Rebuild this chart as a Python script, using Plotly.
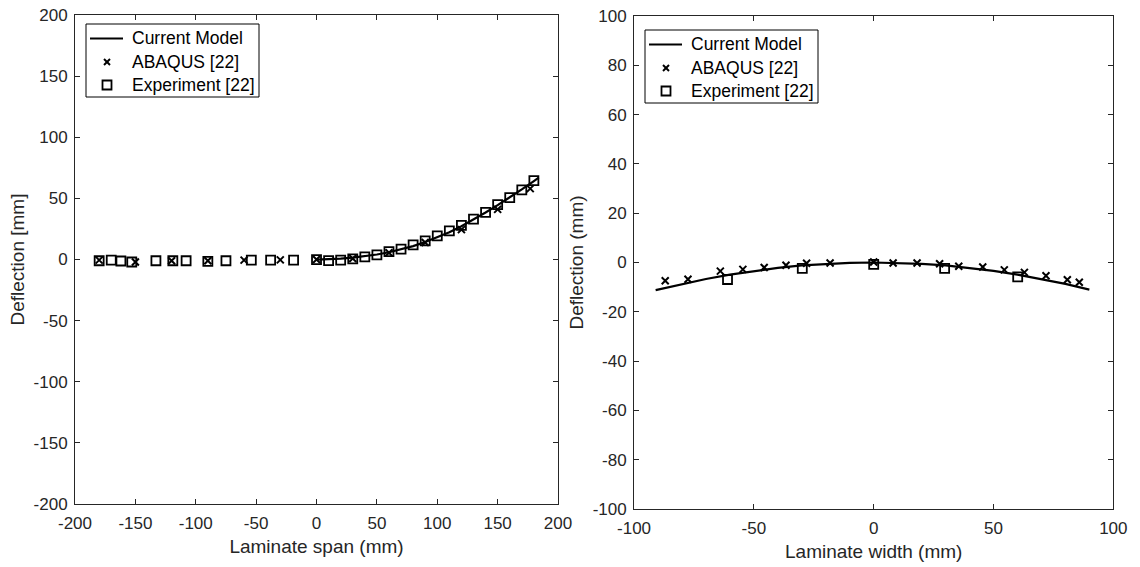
import plotly.graph_objects as go

# ---- Laminate span (left panel) ----
span_model_x = [0, 10, 20, 30, 40, 50, 60, 70, 80, 90, 100, 110, 120, 130, 140, 150, 160, 170, 180, 184]
span_model_y = [0, 0.2, 0.7, 1.5, 2.6, 4.1, 6.0, 8.3, 11.0, 14.3, 18.0, 22.3, 27.2, 32.6, 38.5, 44.5, 50.8, 57.4, 64.2, 67.0]

span_abaqus_x = [-180, -150, -120, -90, -60, -30, 0, 30, 60, 90, 120, 150, 177]
span_abaqus_y = [-0.5, -2.0, -1.0, -1.0, -0.5, -0.3, 0, 0.8, 5.5, 14.0, 24.5, 41.0, 58.0]

span_exp_x = [-180, -170, -162, -153, -133, -119, -108, -90, -75, -54, -38, -19, 0,
              10, 20, 30, 40, 50, 60, 70, 80, 90, 100, 110, 120, 130, 140, 150, 160, 170, 180]
span_exp_y = [-1.0, -0.5, -1.2, -2.0, -1.0, -1.0, -1.0, -1.5, -1.0, -0.5, -0.5, -0.5, 0,
              -0.8, -0.5, 0.5, 2.2, 3.8, 6.5, 8.6, 12.0, 15.3, 19.3, 23.5, 28.0, 33.0, 38.6, 45.0, 50.6, 57.0, 64.5]

span_xticks = [-200, -150, -100, -50, 0, 50, 100, 150, 200]
span_yticks = [-200, -150, -100, -50, 0, 50, 100, 150, 200]

# ---- Laminate width (right panel) ----
width_model_x = [-91, -80, -70, -60, -50, -40, -30, -20, -10, 0, 10, 20, 30, 40, 50, 60, 70, 80, 90]
width_model_y = [-11.2, -8.7, -6.7, -4.9, -3.4, -2.2, -1.2, -0.55, -0.14, 0, -0.14, -0.55, -1.2, -2.2, -3.4, -4.9, -6.7, -8.7, -11.0]

width_abaqus_x = [-87, -77.5, -64, -54.6, -45.7, -36.6, -28, -18.2, 0, 8.1, 18.1, 27.5, 35.5, 45.5, 54.5, 62.9, 71.9, 80.8, 85.8]
width_abaqus_y = [-7.4, -6.8, -3.5, -2.8, -2.0, -1.1, -0.3, -0.2, 0.2, -0.2, -0.2, -0.5, -1.5, -1.8, -3.0, -4.0, -5.4, -7.0, -8.0]

width_exp_x = [-61, -29.8, 0, 29.6, 60.1]
width_exp_y = [-6.9, -2.4, -0.8, -2.4, -5.8]

width_xticks = [-100, -50, 0, 50, 100]
width_yticks = [-100, -80, -60, -40, -20, 0, 20, 40, 60, 80, 100]

legend_names = ["Current Model", "ABAQUS [22]", "Experiment [22]"]

FONT = "Liberation Sans, Arial, sans-serif"
INK = "#262626"
W, H = 1140, 567

fig = go.Figure()

def add_panel(mx, my, ax, ay, ex, ey, xa, ya):
    fig.add_trace(go.Scatter(x=mx, y=my, mode="lines", name=legend_names[0],
                             line=dict(color="black", width=2.2),
                             xaxis=xa, yaxis=ya, showlegend=False))
    fig.add_trace(go.Scatter(x=ax, y=ay, mode="markers", name=legend_names[1],
                             marker=dict(symbol="x-thin", size=7, color="black",
                                         line=dict(color="black", width=2)),
                             xaxis=xa, yaxis=ya, showlegend=False))
    fig.add_trace(go.Scatter(x=ex, y=ey, mode="markers", name=legend_names[2],
                             marker=dict(symbol="square-open", size=9, color="black",
                                         line=dict(color="black", width=1.8)),
                             xaxis=xa, yaxis=ya, showlegend=False))

add_panel(span_model_x, span_model_y, span_abaqus_x, span_abaqus_y,
          span_exp_x, span_exp_y, "x", "y")
add_panel(width_model_x, width_model_y, width_abaqus_x, width_abaqus_y,
          width_exp_x, width_exp_y, "x2", "y2")

# Compact MATLAB-style legend box, placed in pixel units
def px(x):
    return x / W

def py(y):
    return 1 - y / H

def draw_legend(x0, y0, w=173, h=73):
    fig.add_shape(type="rect", xref="paper", yref="paper",
                  x0=px(x0), x1=px(x0 + w), y0=py(y0), y1=py(y0 + h),
                  line=dict(color="black", width=1), fillcolor="white", layer="above")
    rows = [y0 + 14.5, y0 + 38, y0 + 61]
    sx = x0 + 21
    # solid line sample
    fig.add_shape(type="line", xref="paper", yref="paper",
                  x0=px(x0 + 4), x1=px(x0 + 37), y0=py(rows[0]), y1=py(rows[0]),
                  line=dict(color="black", width=2.2), layer="above")
    # cross sample
    d = 3
    for a, b in ((-d, d), (d, -d)):
        fig.add_shape(type="line", xref="paper", yref="paper",
                      x0=px(sx - d), x1=px(sx + d), y0=py(rows[1] + a), y1=py(rows[1] + b),
                      line=dict(color="black", width=2), layer="above")
    # open square sample
    s = 4.5
    fig.add_shape(type="rect", xref="paper", yref="paper",
                  x0=px(sx - s), x1=px(sx + s), y0=py(rows[2] - s), y1=py(rows[2] + s),
                  line=dict(color="black", width=1.8), layer="above")
    for name, ry in zip(legend_names, rows):
        fig.add_annotation(x=px(x0 + 44), y=py(ry), xref="paper", yref="paper",
                           text=name, showarrow=False, xanchor="left", yanchor="middle",
                           font=dict(family=FONT, size=17.5, color="black"))

draw_legend(86, 24)
draw_legend(645, 30)

def labels(vals):
    # plain hyphen-minus for negative tick labels
    return [str(v) for v in vals]

axis_common = dict(showline=True, linecolor=INK, linewidth=1, mirror="ticks",
                   ticks="inside", ticklen=5, tickcolor=INK, showgrid=False,
                   zeroline=False, automargin=False,
                   tickfont=dict(family=FONT, size=17, color=INK))
title_font = dict(size=19, family=FONT, color=INK)

fig.update_layout(
    width=W, height=H,
    margin=dict(l=0, r=0, t=0, b=0),
    paper_bgcolor="white", plot_bgcolor="white",
    font=dict(family=FONT, color=INK),
    showlegend=False,
    xaxis=dict(domain=[0.0658, 0.4895], range=[-200, 200], anchor="y",
               tickvals=span_xticks, ticktext=labels(span_xticks), ticklabelstandoff=4,
               title=dict(text="Laminate span (mm)", font=title_font, standoff=7),
               **axis_common),
    yaxis=dict(domain=[0.111, 0.9735], range=[-200, 200], anchor="x",
               tickvals=span_yticks, ticktext=labels(span_yticks), ticklabelstandoff=3,
               title=dict(text="Deflection [mm]", font=title_font, standoff=3),
               **axis_common),
    xaxis2=dict(domain=[0.5562, 0.9766], range=[-100, 100], anchor="y2",
                tickvals=width_xticks, ticktext=labels(width_xticks), ticklabelstandoff=4,
                title=dict(text="Laminate width (mm)", font=title_font, standoff=7),
                **axis_common),
    yaxis2=dict(domain=[0.1023, 0.9718], range=[-100, 100], anchor="x2",
                tickvals=width_yticks, ticktext=labels(width_yticks), ticklabelstandoff=3,
                title=dict(text="Deflection (mm)", font=title_font, standoff=3),
                **axis_common),
)

fig.write_html("out.html")
